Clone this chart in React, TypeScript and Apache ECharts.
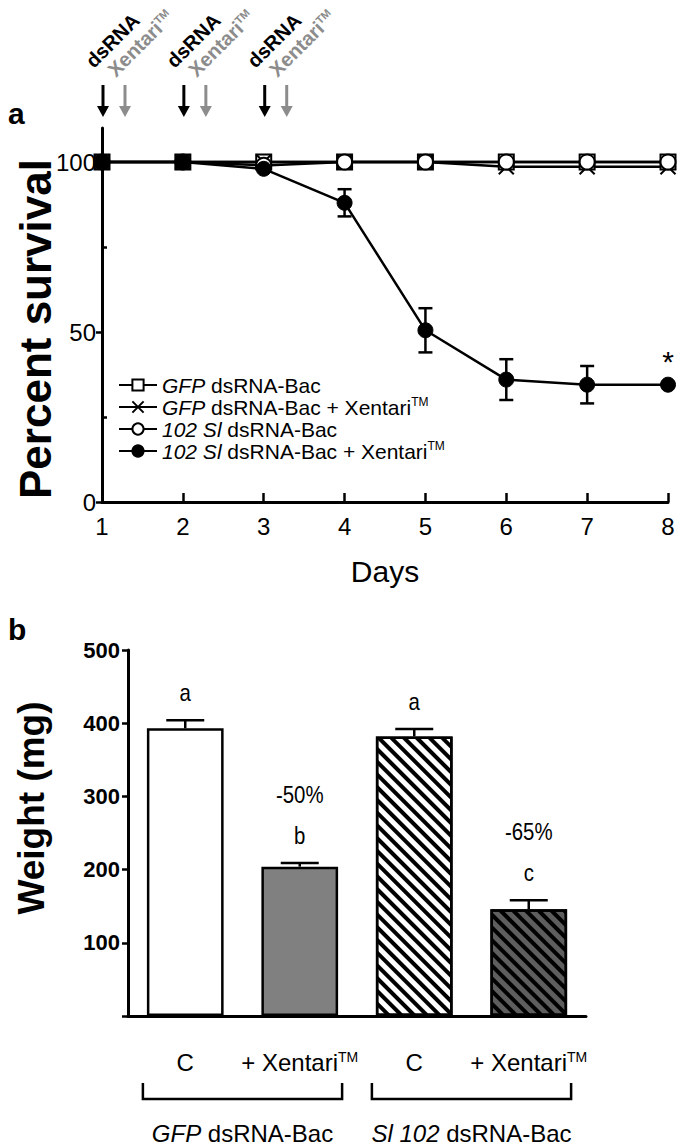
import React, { useEffect, useRef } from 'react';
import * as echarts from 'echarts';

// ---------- Panel a: survival ----------
const days = [1, 2, 3, 4, 5, 6, 7, 8];
const gfpBac = [100, 100, 100, 100, 100, 100, 100, 100];
const gfpBacXentari = [100, 100, 100, 100, 100, 98.6, 98.6, 98.6];
const slBac = [100, 100, 99, 100, 100, 100, 100, 100];
const slBacXentari = [100, 100, 98, 88, 50.5, 36, 34.5, 34.5];
const slBacXentariErr = [0, 0, 0, 4, 6.5, 6, 5.5, 0];
const survivalMarks = ['', '', '', '', '', '', '', '*'];
const treatmentDays = [1, 2, 3];
const survivalMax = 110;
const survivalLabelTicks = [0, 50, 100];
const survivalMinorTicks = [25, 75];
const seriesNames = ['GFP dsRNA-Bac', 'GFP dsRNA-Bac + Xentari', '102 Sl dsRNA-Bac', '102 Sl dsRNA-Bac + Xentari'];
const legendLabels = ['{i|GFP} dsRNA-Bac', '{i|GFP} dsRNA-Bac + Xentari{s|TM}', '{i|102 Sl} dsRNA-Bac', '{i|102 Sl} dsRNA-Bac + Xentari{s|TM}'];

// ---------- Panel b: weight ----------
const weightCategories = ['C', '+ Xentari', 'C', '+ Xentari'];
const weights = [393, 204, 382, 146];
const weightErr = [11, 5, 10, 12];
const weightLetters = ['a', 'b', 'a', 'c'];
const weightReductions = ['', '-50%', '', '-65%'];
const groupItalic = ['GFP', 'Sl 102'];
const groupRest = [' dsRNA-Bac', ' dsRNA-Bac'];
const groupSpans = [[0, 1], [2, 3]];

const FONT = '"Liberation Sans", Arial, Helvetica, sans-serif';
const GREY = '#8c8c8c';

const stripe = (bg: string) => ({
  color: bg,
  borderColor: '#000',
  borderWidth: 2.5,
  decal: {
    symbol: 'rect',
    symbolSize: 1,
    color: '#000',
    dashArrayX: [1, 0],
    dashArrayY: [4, 5],
    rotation: Math.PI / 4,
  },
});
const barStyles = [
  { color: '#ffffff', borderColor: '#000', borderWidth: 2.5 },
  { color: '#808080', borderColor: '#000', borderWidth: 2.5 },
  stripe('#ffffff'),
  stripe('#5e5e5e'),
];

const baseGraphic: any[] = [
  { id: 'pa', type: 'text', left: 8, top: 98, style: { text: 'a', fontSize: 30, fontWeight: 'bold', fill: '#000', fontFamily: FONT } },
  { id: 'pb', type: 'text', left: 8, top: 614, style: { text: 'b', fontSize: 30, fontWeight: 'bold', fill: '#000', fontFamily: FONT } },
  {
    id: 'ya',
    type: 'text',
    x: 35,
    y: 329,
    rotation: Math.PI / 2,
    style: { text: 'Percent survival', fontSize: 44, fontWeight: 'bold', fill: '#000', fontFamily: FONT, align: 'center', verticalAlign: 'middle' },
  },
  {
    id: 'yb',
    type: 'text',
    x: 31,
    y: 808,
    rotation: Math.PI / 2,
    style: { text: 'Weight (mg)', fontSize: 37, fontWeight: 'bold', fill: '#000', fontFamily: FONT, align: 'center', verticalAlign: 'middle' },
  },
];

function buildOption(): any {
  const lineCommon = {
    type: 'line',
    xAxisIndex: 0,
    yAxisIndex: 0,
    symbolSize: 15,
    lineStyle: { color: '#000', width: 2.5 },
    emphasis: { disabled: true },
  };
  return {
    animation: false,
    backgroundColor: '#fff',
    textStyle: { fontFamily: FONT },
    grid: [
      { left: 102, right: 17, top: 128, height: 374, outerBoundsMode: 'none', containLabel: false },
      { left: 128, right: 99, top: 650, height: 366, outerBoundsMode: 'none', containLabel: false },
    ],
    legend: {
      orient: 'vertical',
      left: 113,
      top: 369,
      itemWidth: 38,
      itemHeight: 14,
      itemGap: 0,
      selectedMode: false,
      data: seriesNames,
      formatter: (name: string) => legendLabels[seriesNames.indexOf(name)],
      textStyle: {
        fontSize: 21,
        lineHeight: 22,
        color: '#000',
        fontFamily: FONT,
        rich: {
          i: { fontSize: 21, lineHeight: 22, fontStyle: 'italic', color: '#000', fontFamily: FONT },
          s: { fontSize: 12, lineHeight: 22, verticalAlign: 'top', color: '#000', fontFamily: FONT },
        },
      },
    },
    xAxis: [
      {
        gridIndex: 0,
        type: 'value',
        min: 1,
        max: 8,
        interval: 1,
        splitLine: { show: false },
        axisLine: { lineStyle: { color: '#000', width: 3 } },
        axisTick: { inside: true, length: 9, lineStyle: { color: '#000', width: 2.5 } },
        axisLabel: { fontSize: 24, color: '#000', margin: 12, fontFamily: FONT },
        name: 'Days',
        nameLocation: 'middle',
        nameGap: 54,
        nameTextStyle: { fontSize: 30, color: '#000', fontFamily: FONT },
      },
      {
        gridIndex: 1,
        type: 'category',
        data: weightCategories,
        axisTick: { show: false },
        axisLine: { lineStyle: { color: '#000', width: 3 } },
        axisLabel: {
          interval: 0,
          margin: 34,
          fontSize: 24,
          color: '#000',
          fontFamily: FONT,
          formatter: (v: string) => (v.indexOf('Xentari') >= 0 ? v + '{s|TM}' : v),
          rich: { s: { fontSize: 14, verticalAlign: 'top', color: '#000', fontFamily: FONT } },
        },
      },
    ],
    yAxis: [
      {
        gridIndex: 0,
        type: 'value',
        position: 'left',
        min: 0,
        max: survivalMax,
        interval: 50,
        splitLine: { show: false },
        axisLine: { show: true, lineStyle: { color: '#000', width: 3 } },
        axisTick: { show: true, length: 6, customValues: survivalLabelTicks, lineStyle: { color: '#000', width: 2.5 } },
        axisLabel: { fontSize: 24, color: '#000', margin: 6, customValues: survivalLabelTicks, fontFamily: FONT },
      },
      {
        gridIndex: 0,
        type: 'value',
        position: 'left',
        offset: 0,
        min: 0,
        max: survivalMax,
        interval: 50,
        splitLine: { show: false },
        axisLine: { show: false },
        axisTick: { show: true, inside: true, length: 5, customValues: survivalMinorTicks, lineStyle: { color: '#000', width: 2.5 } },
        axisLabel: { show: false },
      },
      {
        gridIndex: 1,
        type: 'value',
        position: 'left',
        min: 0,
        max: 500,
        interval: 100,
        splitLine: { show: false },
        axisLine: { show: true, lineStyle: { color: '#000', width: 3 } },
        axisTick: { show: true, length: 6, lineStyle: { color: '#000', width: 2.5 } },
        axisLabel: {
          fontSize: 22,
          fontWeight: 'bold',
          color: '#000',
          margin: 8,
          fontFamily: FONT,
          formatter: (v: number) => (v === 0 ? '' : String(v)),
        },
      },
    ],
    graphic: baseGraphic,
    series: [
      {
        ...lineCommon,
        name: seriesNames[0],
        symbol: 'rect',
        itemStyle: { color: '#fff', borderColor: '#000', borderWidth: 2 },
        data: days.map((d, i) => [d, gfpBac[i]]),
      },
      {
        ...lineCommon,
        name: seriesNames[1],
        symbol: 'path://M0,0L10,10M10,0L0,10',
        itemStyle: { color: '#fff', borderColor: '#000', borderWidth: 2 },
        data: days.map((d, i) => [d, gfpBacXentari[i]]),
      },
      {
        ...lineCommon,
        name: seriesNames[2],
        symbol: 'circle',
        itemStyle: { color: '#fff', borderColor: '#000', borderWidth: 2 },
        data: days.map((d, i) => [d, slBac[i]]),
      },
      {
        type: 'custom',
        xAxisIndex: 0,
        yAxisIndex: 0,
        clip: false,
        silent: true,
        data: days.map((d, i) => [d, slBacXentari[i], slBacXentariErr[i]]),
        encode: { x: 0, y: 1 },
        renderItem: (params: any, api: any) => {
          const x = api.value(0), v = api.value(1), e = api.value(2);
          if (!e) return { type: 'group', children: [] };
          const top = api.coord([x, v + e]);
          const bot = api.coord([x, v - e]);
          const s = { stroke: '#000', lineWidth: 2.5 };
          return {
            type: 'group',
            children: [
              { type: 'line', shape: { x1: top[0], y1: top[1], x2: bot[0], y2: bot[1] }, style: s },
              { type: 'line', shape: { x1: top[0] - 7, y1: top[1], x2: top[0] + 7, y2: top[1] }, style: s },
              { type: 'line', shape: { x1: bot[0] - 7, y1: bot[1], x2: bot[0] + 7, y2: bot[1] }, style: s },
            ],
          };
        },
      },
      {
        ...lineCommon,
        name: seriesNames[3],
        symbol: 'circle',
        itemStyle: { color: '#000', borderColor: '#000', borderWidth: 1 },
        data: days.map((d, i) =>
          survivalMarks[i]
            ? {
                value: [d, slBacXentari[i]],
                label: { show: true, formatter: survivalMarks[i], position: 'top', distance: 0, fontSize: 30, color: '#000', fontFamily: FONT },
              }
            : [d, slBacXentari[i]]
        ),
      },
      // ---------- panel b ----------
      {
        type: 'bar',
        xAxisIndex: 1,
        yAxisIndex: 2,
        barWidth: '67%',
        silent: true,
        data: weights.map((w, i) => ({ value: w, itemStyle: barStyles[i] })),
      },
      {
        type: 'custom',
        xAxisIndex: 1,
        yAxisIndex: 2,
        clip: false,
        silent: true,
        data: weights.map((w, i) => [i, w, weightErr[i]]),
        encode: { x: 0, y: 1 },
        renderItem: (params: any, api: any) => {
          const i = api.value(0), v = api.value(1), e = api.value(2);
          const p0 = api.coord([i, v]);
          const p1 = api.coord([i, v + e]);
          const s = { stroke: '#000', lineWidth: 2.5 };
          const idx = params.dataIndex;
          const txt = (text: string, dy: number) => ({
            type: 'group',
            x: p1[0],
            y: p1[1] - dy,
            scaleX: 0.85,
            children: [
              {
                type: 'text',
                x: 0,
                y: 0,
                style: { text, fontSize: 24, fill: '#000', fontFamily: FONT, align: 'center', verticalAlign: 'middle' },
              },
            ],
          });
          const children: any[] = [
            { type: 'line', shape: { x1: p0[0], y1: p0[1], x2: p1[0], y2: p1[1] }, style: s },
            { type: 'line', shape: { x1: p1[0] - 19, y1: p1[1], x2: p1[0] + 19, y2: p1[1] }, style: s },
            txt(weightLetters[idx], 27),
          ];
          if (weightReductions[idx]) children.push(txt(weightReductions[idx], 68));
          return { type: 'group', children };
        },
      },
      {
        type: 'custom',
        xAxisIndex: 1,
        yAxisIndex: 2,
        clip: false,
        silent: true,
        data: groupSpans.map((g) => [g[0], 0, g[1]]),
        encode: { x: 0, y: 1 },
        renderItem: (params: any, api: any) => {
          const a = api.coord([api.value(0), 0]);
          const b = api.coord([api.value(2), 0]);
          const half = api.size([1, 0])[0] * 0.335 + 4;
          const l = a[0] - half, r = b[0] + half, y = a[1] + 83;
          const s = { stroke: '#000', lineWidth: 2.5 };
          const idx = params.dataIndex;
          return {
            type: 'group',
            children: [
              { type: 'polyline', shape: { points: [[l, y - 16], [l, y], [r, y], [r, y - 16]] }, style: { ...s, fill: null } },
              {
                type: 'text',
                x: (l + r) / 2,
                y: a[1] + 117,
                style: {
                  text: '{i|' + groupItalic[idx] + '}' + groupRest[idx],
                  fontSize: 24,
                  fill: '#000',
                  fontFamily: FONT,
                  align: 'center',
                  verticalAlign: 'middle',
                  rich: { i: { fontSize: 24, fontStyle: 'italic', fill: '#000', fontFamily: FONT } },
                },
              },
            ],
          };
        },
      },
    ],
  };
}

function treatmentGraphic(chart: any): any[] {
  const out: any[] = [];
  treatmentDays.forEach((d, k) => {
    const p = chart.convertToPixel({ gridIndex: 0 }, [d, survivalMax]);
    if (!p) return;
    const arrow = (x: number, color: string, id: string) => [
      { id: id + 's', type: 'line', shape: { x1: x, y1: p[1] - 43, x2: x, y2: p[1] - 20 }, style: { stroke: color, lineWidth: 3 } },
      { id: id + 'h', type: 'polygon', shape: { points: [[x - 6, p[1] - 22], [x + 6, p[1] - 22], [x, p[1] - 11]] }, style: { fill: color } },
    ];
    out.push(...arrow(p[0] + 1, '#000', 'ab' + k));
    out.push(...arrow(p[0] + 23, GREY, 'ag' + k));
    out.push({
      id: 'td' + k,
      type: 'text',
      x: p[0] - 6,
      y: p[1] - 57,
      rotation: Math.PI / 4,
      style: { text: 'dsRNA', fontSize: 20, fontWeight: 'bold', fill: '#000', fontFamily: FONT, align: 'left', verticalAlign: 'bottom' },
    });
    out.push({
      id: 'tx' + k,
      type: 'text',
      x: p[0] + 16,
      y: p[1] - 48,
      rotation: Math.PI / 4,
      style: {
        text: 'Xentari{s|TM}',
        fontSize: 20,
        fontWeight: 'bold',
        fill: GREY,
        fontFamily: FONT,
        align: 'left',
        verticalAlign: 'bottom',
        rich: { s: { fontSize: 11, fontWeight: 'bold', fill: GREY, verticalAlign: 'top', fontFamily: FONT } },
      },
    });
  });
  return out;
}

export default function App() {
  const ref = useRef<HTMLDivElement>(null);
  useEffect(() => {
    const chart = echarts.init(ref.current as HTMLDivElement, null, { renderer: 'svg', width: 685, height: 1147 });
    chart.setOption(buildOption());
    chart.setOption({ graphic: [...baseGraphic, ...treatmentGraphic(chart)] });
    return () => chart.dispose();
  }, []);
  return (
    <div
      ref={ref}
      style={{ position: 'absolute', left: 0, top: 0, width: 685, height: 1147, background: '#fff' }}
    />
  );
}
